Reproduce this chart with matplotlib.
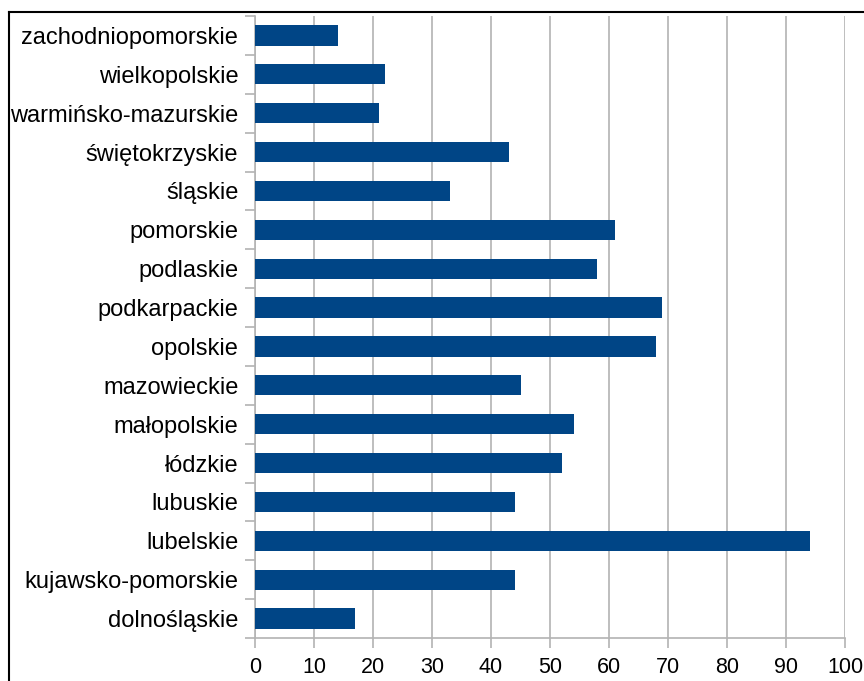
import matplotlib.pyplot as plt
from matplotlib.lines import Line2D

regions = ['dolnośląskie', 'kujawsko-pomorskie', 'lubelskie', 'lubuskie', 'łódzkie',
           'małopolskie', 'mazowieckie', 'opolskie', 'podkarpackie', 'podlaskie',
           'pomorskie', 'śląskie', 'świętokrzyskie', 'warmińsko-mazurskie',
           'wielkopolskie', 'zachodniopomorskie']
values = [17, 44, 94, 44, 52, 54, 45, 68, 69, 58, 61, 33, 43, 21, 22, 14]

plt.rcParams['font.family'] = ['Liberation Sans', 'DejaVu Sans']

fig = plt.figure(figsize=(8.64, 6.81), dpi=100)
ax = fig.add_axes([255 / 864, 43 / 681, 590 / 864, 622 / 681])

pos = list(range(len(regions)))
ax.barh(pos, values, height=0.52, color='#004586', zorder=3)

ax.set_xlim(0, 100)
ax.set_ylim(-0.5, len(regions) - 0.5)
ax.set_xticks(range(0, 101, 10))
ax.tick_params(axis='x', labelsize=15.5, length=7, color='#b3b3b3', width=1.2, pad=7)

# etykiety kategorii na środku, kreski na granicach
ax.set_yticks(pos)
ax.set_yticklabels(regions, fontsize=17)
ax.tick_params(axis='y', length=0, pad=12)
ax.set_yticks([p - 0.5 for p in pos] + [len(regions) - 0.5], minor=True)
ax.tick_params(axis='y', which='minor', length=7, color='#b3b3b3', width=1.2)

ax.grid(axis='x', color='#b3b3b3', linewidth=1.2, zorder=0)
for s in ['top', 'right']:
    ax.spines[s].set_visible(False)
for s in ['left', 'bottom']:
    ax.spines[s].set_color('#b3b3b3')
    ax.spines[s].set_linewidth(1.2)

# ramka zrzutu ekranu
fig.add_artist(Line2D([9 / 864, 1], [1 - 12 / 681, 1 - 12 / 681], color='black', lw=1.5))
fig.add_artist(Line2D([9 / 864, 9 / 864], [0, 1 - 12 / 681], color='black', lw=1.5))

fig.savefig('out.png', dpi=100)
